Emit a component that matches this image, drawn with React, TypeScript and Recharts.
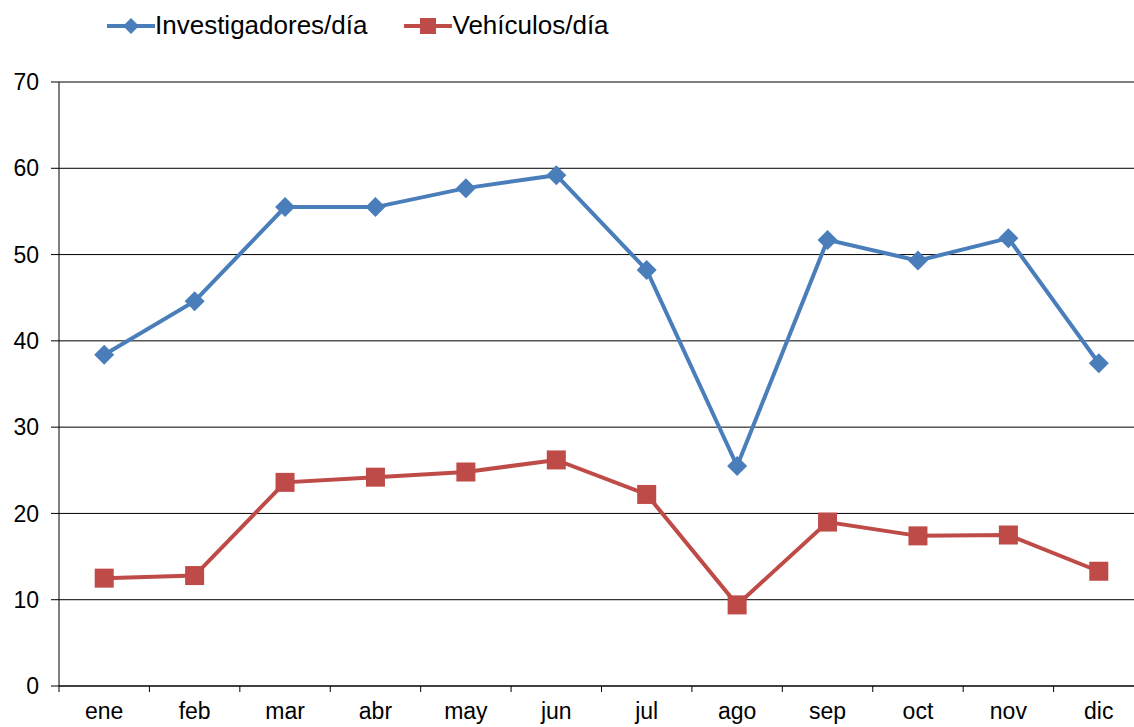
import React from 'react';
import { LineChart, Line, XAxis, YAxis, CartesianGrid, Legend } from 'recharts';

const months = ['ene', 'feb', 'mar', 'abr', 'may', 'jun', 'jul', 'ago', 'sep', 'oct', 'nov', 'dic'];
const investigadores = [38.4, 44.6, 55.5, 55.5, 57.7, 59.2, 48.2, 25.5, 51.7, 49.3, 51.9, 37.4];
const vehiculos = [12.5, 12.8, 23.6, 24.2, 24.8, 26.2, 22.2, 9.4, 19.0, 17.4, 17.5, 13.3];
const yTicks = [0, 10, 20, 30, 40, 50, 60, 70];

const data = months.map((m, i) => ({ month: m, inv: investigadores[i], veh: vehiculos[i] }));

const BLUE = '#4a7ebb';
const RED = '#be4b48';
const FONT = '"Liberation Sans", Arial, sans-serif';

const CHART_W = 1144;
const CHART_H = 727;
const Y_AXIS_W = 59;
const MARGIN = { top: 82, right: 0, left: 0, bottom: 0 };
const BAND = (CHART_W - Y_AXIS_W - MARGIN.left - MARGIN.right) / months.length;

const Diamond = ({ cx, cy }: any) => {
    if (cx == null || cy == null) return null;
    const r = 10;
    return <polygon points={`${cx},${cy - r} ${cx + r},${cy} ${cx},${cy + r} ${cx - r},${cy}`} fill={BLUE} />;
};

const Square = ({ cx, cy }: any) => {
    if (cx == null || cy == null) return null;
    const s = 19;
    return <rect x={cx - s / 2} y={cy - s / 2} width={s} height={s} fill={RED} />;
};

const MonthTick = ({ x, y, payload }: any) => {
    const axisY = y - 17;
    const left = x - BAND / 2;
    return (
        <g>
            <line x1={left} y1={axisY} x2={left} y2={axisY + 6} stroke="#000" strokeWidth={1} />
            <text x={x} y={y} dy="0.71em" textAnchor="middle" fill="#000" fontSize={23} fontFamily={FONT}>
                {payload.value}
            </text>
        </g>
    );
};

const renderLegend = () => (
    <div style={{ display: 'flex', alignItems: 'center', paddingLeft: 107, fontFamily: FONT, fontSize: 26, color: '#000' }}>
        <svg width={48} height={20}>
            <line x1={0} y1={10} x2={48} y2={10} stroke={BLUE} strokeWidth={4} />
            <polygon points="24,2 32,10 24,18 16,10" fill={BLUE} />
        </svg>
        <span style={{ marginRight: 37 }}>Investigadores/día</span>
        <svg width={48} height={20}>
            <line x1={0} y1={10} x2={48} y2={10} stroke={RED} strokeWidth={4} />
            <rect x={16} y={2} width={16} height={16} fill={RED} />
        </svg>
        <span>Vehículos/día</span>
    </div>
);

export default function App() {
    return (
        <div style={{ position: 'fixed', left: 0, top: 0, width: 1134, height: 727, overflow: 'hidden', background: '#fff' }}>
            <LineChart width={CHART_W} height={CHART_H} data={data} margin={MARGIN}>
                <CartesianGrid horizontal vertical={false} stroke="#000" strokeWidth={1} />
                <XAxis
                    dataKey="month"
                    height={CHART_H - MARGIN.top - 604}
                    axisLine={{ stroke: '#000' }}
                    tickLine={false}
                    tickSize={6}
                    tickMargin={11}
                    interval={0}
                    padding={{ left: BAND / 2, right: BAND / 2 }}
                    tick={<MonthTick />}
                />
                <YAxis
                    width={Y_AXIS_W}
                    domain={[0, 70]}
                    ticks={yTicks}
                    axisLine={{ stroke: '#000' }}
                    tickLine={{ stroke: '#000' }}
                    tickSize={8}
                    tickMargin={12}
                    tick={{ fill: '#000', fontSize: 23, fontFamily: FONT }}
                />
                <Legend
                    layout="vertical"
                    align="center"
                    verticalAlign="middle"
                    content={renderLegend}
                    wrapperStyle={{ top: 10, left: 0, width: 800 }}
                />
                <Line
                    dataKey="inv"
                    name="Investigadores/día"
                    stroke={BLUE}
                    strokeWidth={4}
                    dot={<Diamond />}
                    activeDot={false}
                    isAnimationActive={false}
                />
                <Line
                    dataKey="veh"
                    name="Vehículos/día"
                    stroke={RED}
                    strokeWidth={4}
                    dot={<Square />}
                    activeDot={false}
                    isAnimationActive={false}
                />
            </LineChart>
        </div>
    );
}
